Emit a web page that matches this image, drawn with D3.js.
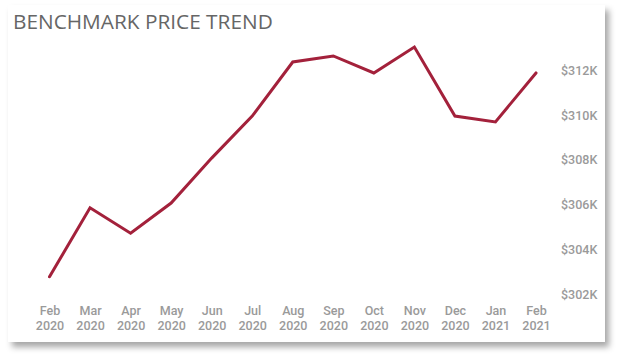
<!DOCTYPE html>
<html>
<head>
<meta charset="utf-8">
<script src="https://cdn.jsdelivr.net/npm/d3@7"></script>
<style>
  html, body { margin: 0; padding: 0; background: #ffffff; }
  svg { display: block; }
</style>
</head>
<body>
<svg id="chart" width="617" height="356"></svg>
<script>
const months = ["Feb", "Mar", "Apr", "May", "Jun", "Jul", "Aug", "Sep", "Oct", "Nov", "Dec", "Jan", "Feb"];
const years = ["2020", "2020", "2020", "2020", "2020", "2020", "2020", "2020", "2020", "2020", "2020", "2021", "2021"];
const prices = [302.77, 305.86, 304.72, 306.07, 308.08, 309.96, 312.38, 312.65, 311.89, 313.05, 309.96, 309.70, 311.89];
const yTicks = [302, 304, 306, 308, 310, 312];
const title = "BENCHMARK PRICE TREND";

const svg = d3.select("#chart");
const defs = svg.append("defs");
const f = defs.append("filter").attr("id", "shadow").attr("x", "-5%").attr("y", "-5%").attr("width", "115%").attr("height", "120%");
f.append("feDropShadow").attr("dx", 4).attr("dy", 5).attr("stdDeviation", 3).attr("flood-color", "#000").attr("flood-opacity", 0.35);

svg.append("rect")
  .attr("x", 8).attr("y", 5).attr("width", 597).attr("height", 337)
  .attr("fill", "#ffffff")
  .attr("filter", "url(#shadow)");

svg.append("text")
  .attr("x", 13).attr("y", 28.5)
  .attr("font-family", "'Open Sans', 'Noto Sans', sans-serif")
  .attr("font-size", 20.8)
  .attr("fill", "#666666")
  .text(title);

const keys = months.map((m, i) => i);
const x = d3.scalePoint().domain(keys).range([49.5, 536]);
const y = d3.scaleLinear().domain([302, 312]).range([294, 70.5]);

const labelFont = "Roboto, 'DejaVu Sans', sans-serif";

// y axis labels
const yAxis = d3.axisRight(y).tickValues(yTicks).tickSize(0).tickPadding(0)
  .tickFormat(d => "$" + d + "K");
const yg = svg.append("g").attr("transform", "translate(561,0)").call(yAxis);
yg.select(".domain").remove();
yg.selectAll("text")
  .attr("font-family", labelFont)
  .attr("font-size", 12.5)
  .attr("font-weight", 500)
  .attr("fill", "#9a9a9a");

// x axis labels (two lines)
const xAxis = d3.axisBottom(x).tickSize(0).tickFormat("");
const xg = svg.append("g").attr("transform", "translate(0,300)").call(xAxis);
xg.select(".domain").remove();
xg.selectAll(".tick").each(function(d) {
  const t = d3.select(this).append("text")
    .attr("font-family", labelFont)
    .attr("font-size", 12.5)
    .attr("font-weight", 500)
    .attr("fill", "#9a9a9a")
    .attr("text-anchor", "middle");
  t.append("tspan").attr("x", 0).attr("y", 15).text(months[d]);
  t.append("tspan").attr("x", 0).attr("y", 29.5).text(years[d]);
});

// line
const line = d3.line().x((d, i) => x(i)).y(d => y(d));
svg.append("path")
  .datum(prices)
  .attr("d", line)
  .attr("fill", "none")
  .attr("stroke", "#A3213B")
  .attr("stroke-width", 3)
  .attr("stroke-linejoin", "miter")
  .attr("stroke-linecap", "round");
</script>
</body>
</html>
